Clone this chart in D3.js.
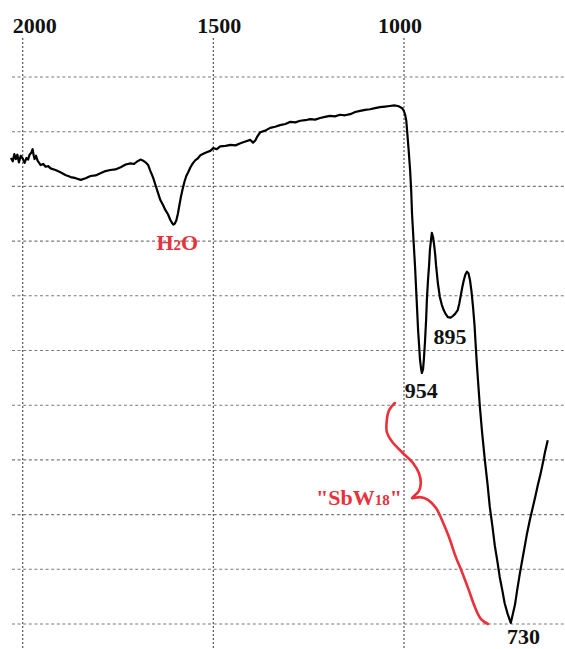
<!DOCTYPE html>
<html>
<head>
<meta charset="utf-8">
<script src="https://cdn.jsdelivr.net/npm/d3@7"></script>
<style>
  body { margin: 0; background: #fff; }
  svg { display: block; }
  text { font-family: "Liberation Serif", "Times New Roman", serif; font-weight: bold; }
</style>
</head>
<body>
<div id="chart"></div>
<script>
// wavenumber (cm-1) and transmittance (%)
const wavenumbers = [2031, 2026, 2022, 2018, 2014, 2010, 2005, 2000, 1995, 1990, 1986, 1982, 1977, 1974, 1971, 1969, 1965, 1961, 1957, 1953,
    1946, 1940, 1933, 1927, 1914, 1901, 1888, 1874, 1861, 1848, 1835, 1822, 1809, 1796, 1783, 1770, 1757, 1743, 1730,
    1717, 1708, 1699, 1691, 1684, 1678, 1671, 1665, 1658, 1652, 1646, 1639, 1632, 1626, 1619, 1613, 1609, 1605, 1601,
    1597, 1593, 1589, 1585, 1581, 1576, 1571, 1566, 1560, 1554, 1547, 1541, 1534, 1525, 1516, 1508, 1500, 1491, 1482,
    1468, 1455, 1442, 1429, 1416, 1403, 1396, 1390, 1384, 1377, 1364, 1351, 1338, 1325, 1311, 1298, 1285, 1272, 1259,
    1246, 1233, 1220, 1207, 1194, 1181, 1168, 1155, 1141, 1128, 1115, 1102, 1089, 1076, 1063, 1050, 1037, 1026, 1016,
    1010, 1005, 1001, 997, 994, 992, 988, 984, 981, 979, 975, 971, 967, 963, 960, 958, 955, 953, 950, 948, 945, 942, 940,
    937, 934, 932, 929, 927, 924, 921, 918, 916, 911, 906, 901, 896, 890, 885, 878, 872, 866, 859, 855, 851, 847, 843,
    839, 835, 831, 827, 823, 819, 815, 812, 809, 806, 801, 795, 788, 781, 775, 768, 762, 755, 749, 742, 736, 728, 720,
    715, 709, 703, 696, 687, 678, 670, 662, 655, 649, 642, 636, 630, 623];
const transmittance = [85.2, 84.6, 85.9, 85.0, 85.8, 84.4, 85.6, 85.1, 84.3, 85.2, 84.9, 85.8, 86.2, 86.8, 85.6, 85.0, 85.6, 84.7, 84.3, 83.9,
    84.1, 83.6, 83.7, 83.3, 83.0, 82.6, 82.1, 81.7, 81.5, 81.2, 81.5, 81.9, 82.0, 82.4, 82.8, 83.0, 83.1, 83.5, 84.0,
    84.2, 84.1, 84.6, 84.9, 84.7, 84.4, 83.9, 82.8, 81.6, 80.3, 79.0, 77.5, 76.6, 75.7, 74.9, 73.9, 73.4, 73.0, 73.2,
    73.8, 75.0, 76.6, 78.1, 79.4, 80.8, 81.9, 82.6, 83.5, 84.2, 84.8, 85.1, 85.7, 86.0, 86.3, 86.5, 87.0, 86.8, 87.3,
    87.4, 87.6, 87.5, 87.9, 88.2, 88.5, 88.0, 88.4, 89.2, 89.9, 90.2, 90.7, 90.9, 91.2, 91.4, 91.8, 91.7, 92.0, 92.1,
    92.3, 92.2, 92.5, 92.7, 92.9, 92.8, 93.1, 93.0, 93.2, 93.6, 93.8, 94.0, 94.1, 94.3, 94.5, 94.6, 94.7, 94.8, 94.7,
    94.5, 94.3, 93.9, 93.1, 92.0, 90.3, 86.8, 83.0, 79.0, 75.1, 70.1, 65.3, 59.5, 53.7, 50.5, 48.3, 46.6, 45.9, 46.6, 48.3,
    51.5, 55.6, 59.3, 62.9, 65.8, 68.4, 70.3, 71.5, 70.8, 69.3, 67.4, 65.6, 62.2, 59.8, 58.4, 57.4, 56.6, 56.1, 56.0,
    56.3, 56.7, 57.4, 58.6, 60.1, 61.6, 62.9, 63.9, 64.4, 64.1, 62.9, 60.8, 58.0, 54.6, 51.0, 47.6, 44.6, 39.7, 34.9,
    30.0, 25.6, 21.4, 17.8, 14.4, 11.4, 8.6, 6.1, 3.8, 1.8, 0.2, 1.7, 3.5, 6.3, 9.3, 12.8, 16.3, 19.0, 21.4, 23.5, 25.4,
    27.4, 29.4, 31.5, 33.6];

// red brace marking the SbW18 bands
const braceWn = [1024, 1039, 1045, 1045, 1031, 1005, 976, 961, 956, 961, 979, 958, 937, 916, 898, 882, 866, 848, 830, 814, 798, 780];
const braceT = [40.4, 39.1, 37.3, 35.1, 33.3, 31.4, 29.4, 27.6, 25.8, 24.3, 23.0, 23.2, 22.7, 21.2, 18.6, 15.9, 12.6, 9.5, 6.2, 3.1, 0.9, 0.0];

const tickLabels = [2000, 1500, 1000];
const gridLevels = [100, 90, 80, 70, 60, 50, 40, 30, 20, 10, 0];

// peak labels: text, anchored wavenumber / transmittance
const peakNames = ["954", "895", "730"];
const peakWn = [955, 895, 723];
const peakT = [45.9, 56.1, 0.2];

function drawChart() {
    let width = 565, height = 649;
    let svg = d3.select("#chart").append("svg")
        .attr("width", width)
        .attr("height", height);

    let x = d3.scaleLinear().domain([2000, 1000]).range([22.7, 404]);
    let y = d3.scaleLinear().domain([0, 100]).range([624, 77]);

    // grid
    svg.append("g").selectAll("line")
        .data(gridLevels).enter().append("line")
        .attr("x1", 12).attr("x2", width)
        .attr("y1", d => y(d)).attr("y2", d => y(d))
        .attr("stroke", "#7a7a7a")
        .attr("stroke-width", 1.1)
        .attr("stroke-dasharray", "3,2.6");

    svg.append("g").selectAll("line")
        .data(tickLabels).enter().append("line")
        .attr("x1", d => x(d)).attr("x2", d => x(d))
        .attr("y1", 38).attr("y2", height)
        .attr("stroke", "#555")
        .attr("stroke-width", 1.2)
        .attr("stroke-dasharray", "2,2");

    // top axis labels (sit a little off their lines in the original)
    let labelNudge = [12, 6, -4];
    svg.append("g").selectAll("text")
        .data(tickLabels).enter().append("text")
        .attr("x", (d, i) => x(d) + labelNudge[i])
        .attr("y", 33)
        .attr("text-anchor", "middle")
        .attr("font-size", 22)
        .attr("fill", "#111")
        .text(d => d);

    // spectrum
    let points = wavenumbers.map((w, i) => [w, transmittance[i]]);
    let line = d3.line()
        .x(d => x(d[0]))
        .y(d => y(d[1]));
    svg.append("path")
        .attr("d", line(points))
        .attr("fill", "none")
        .attr("stroke", "#000")
        .attr("stroke-width", 2.2)
        .attr("stroke-linejoin", "round");

    // brace
    let brace = braceWn.map((w, i) => [w, braceT[i]]);
    svg.append("path")
        .attr("d", line.curve(d3.curveCatmullRom)(brace))
        .attr("fill", "none")
        .attr("stroke", "#e8313a")
        .attr("stroke-width", 2.6)
        .attr("stroke-linecap", "round");

    // peak labels
    let peakOffset = [[0, 25], [6, 27], [14, 21]];
    svg.append("g").selectAll("text")
        .data(peakNames).enter().append("text")
        .attr("x", (d, i) => x(peakWn[i]) + peakOffset[i][0])
        .attr("y", (d, i) => y(peakT[i]) + peakOffset[i][1])
        .attr("text-anchor", "middle")
        .attr("font-size", 22)
        .attr("fill", "#111")
        .text(d => d);

    // H2O
    let h2o = svg.append("text")
        .attr("x", x(1605) + 4)
        .attr("y", y(73.1) + 26)
        .attr("text-anchor", "middle")
        .attr("font-size", 22)
        .attr("fill", "#e8313a");
    h2o.append("tspan").text("H");
    h2o.append("tspan").attr("font-size", 15).text("2");
    h2o.append("tspan").text("O");

    // "SbW18"
    let sbw = svg.append("text")
        .attr("x", x(979) - 10)
        .attr("y", y(23.0) + 7)
        .attr("text-anchor", "end")
        .attr("font-size", 22)
        .attr("fill", "#e8313a");
    sbw.append("tspan").text("\"SbW");
    sbw.append("tspan").attr("font-size", 15).text("18");
    sbw.append("tspan").text("\"");
}

drawChart();
</script>
</body>
</html>
